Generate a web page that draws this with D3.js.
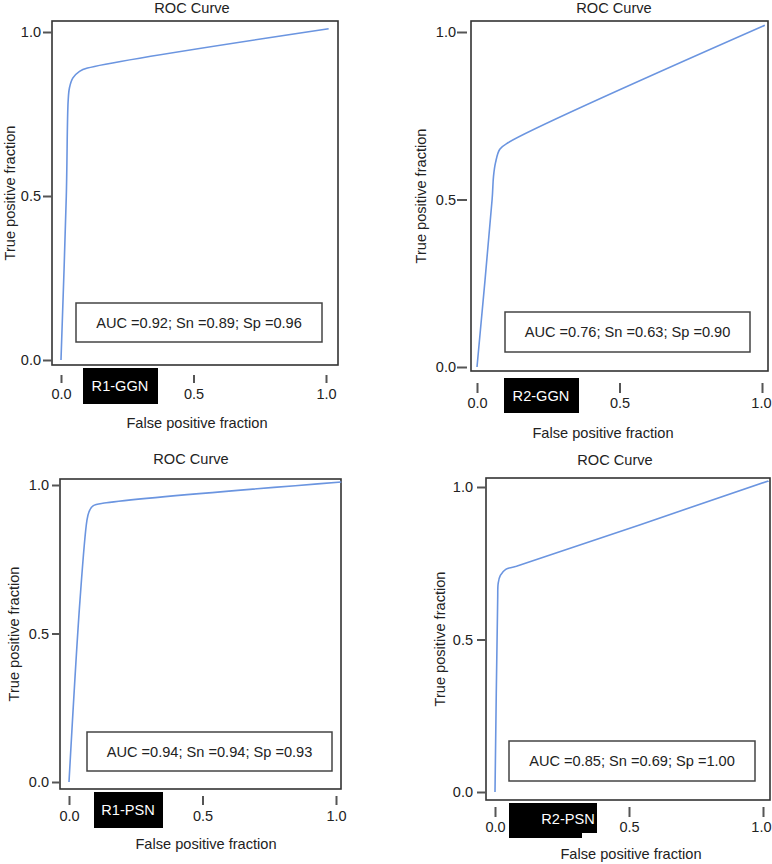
<!DOCTYPE html>
<html>
<meta charset="utf-8">
<title>ROC Curves</title>
<style>
body {
  margin: 0;
  background: #fff;
  font-family: "Liberation Sans", Arial, sans-serif;
}

.frame {
  fill: none;
  stroke: #333;
  stroke-width: 1.6px;
}

.axis path.domain {
  display: none;
}

.axis line {
  stroke: #555;
  stroke-width: 2px;
}

.axis text {
  font-family: "Liberation Sans", Arial, sans-serif;
  font-size: 14.5px;
  fill: #222;
}

.roc {
  fill: none;
  stroke: #6b95e0;
  stroke-width: 1.6px;
}

.statbox {
  fill: #fff;
  stroke: #444;
  stroke-width: 1.5px;
}

.label {
  font-size: 14.6px;
  fill: #222;
}
</style>
<body>
<div id="chart"></div>
<script src="https://d3js.org/d3.v7.min.js"></script>
<script>

// values
var names = ["R1-GGN", "R2-GGN", "R1-PSN", "R2-PSN"];
var stats = [
  "AUC =0.92; Sn =0.89; Sp =0.96",
  "AUC =0.76; Sn =0.63; Sp =0.90",
  "AUC =0.94; Sn =0.94; Sp =0.93",
  "AUC =0.85; Sn =0.69; Sp =1.00"
];
var tickValues = [0, 0.5, 1];

var fpr1 = [0, 0.02, 0.027, 0.032, 0.045, 0.07, 0.1, 1.01];
var tpr1 = [0, 0.5, 0.79, 0.83, 0.86, 0.88, 0.89, 1.01];

var fpr2 = [0, 0.053, 0.058, 0.065, 0.08, 0.11, 1.01];
var tpr2 = [0, 0.5, 0.57, 0.61, 0.65, 0.67, 1.02];

var fpr3 = [0, 0.041, 0.067, 0.075, 0.09, 0.14, 1.02];
var tpr3 = [0, 0.61, 0.88, 0.91, 0.93, 0.94, 1.01];

var fpr4 = [0, 0.01, 0.012, 0.02, 0.04, 0.08, 1.02];
var tpr4 = [0, 0.63, 0.685, 0.71, 0.73, 0.74, 1.02];

var curves = [[fpr1, tpr1], [fpr2, tpr2], [fpr3, tpr3], [fpr4, tpr4]];

// where each panel sits on the page
var layout = [
  { frame: [52, 21, 338, 365], x: [61, 326], y: [360, 32], titleX: 192, titleY: 13,
    yTick: { right: 52, len: 9, pad: 2 }, yTitleX: 10,
    xTick: { top: 375, len: 8, pad: 6 }, xTitle: [197, 428],
    badges: [[83, 368, 158, 404]], badgeText: [120, 386],
    box: [76, 303, 322, 342] },
  { frame: [471, 21, 768, 371], x: [477, 762], y: [367, 32], titleX: 614, titleY: 13,
    yTick: { right: 467, len: 10, pad: 1 }, yTitleX: 421,
    xTick: { top: 383, len: 10, pad: 5 }, xTitle: [603, 438],
    badges: [[504, 378, 579, 413]], badgeText: [541, 396],
    box: [505, 312, 750, 352] },
  { frame: [60, 479, 341, 789], x: [69, 336], y: [782, 485], titleX: 191, titleY: 464,
    yTick: { right: 60, len: 8, pad: 3 }, yTitleX: 14,
    xTick: { top: 796, len: 9, pad: 6 }, xTitle: [206, 849],
    badges: [[94, 792, 163, 828]], badgeText: [128, 810],
    box: [87, 732, 332, 771] },
  { frame: [486, 478, 770, 800], x: [495, 763], y: [792, 487], titleX: 615, titleY: 465,
    yTick: { right: 486, len: 9, pad: 4 }, yTitleX: 440,
    xTick: { top: 807, len: 10, pad: 5 }, xTitle: [631, 859],
    badges: [[509, 803, 582, 838], [509, 803, 597, 833]], badgeText: [568, 819],
    box: [509, 741, 755, 781] }
];

var W = 772, H = 864;

var svg = d3.select("#chart").append("svg")
  .attr("width", W)
  .attr("height", H);

layout.forEach(function(L, i) {
  var g = svg.append("g");

  var x = d3.scaleLinear().domain([0, 1]).range(L.x);
  var y = d3.scaleLinear().domain([0, 1]).range(L.y);

  g.append("text")
    .attr("class", "label")
    .attr("x", L.titleX)
    .attr("y", L.titleY)
    .attr("text-anchor", "middle")
    .text("ROC Curve");

  g.append("rect")
    .attr("class", "frame")
    .attr("x", L.frame[0])
    .attr("y", L.frame[1])
    .attr("width", L.frame[2] - L.frame[0])
    .attr("height", L.frame[3] - L.frame[1]);

  g.append("g")
    .attr("class", "axis")
    .attr("transform", "translate(" + L.yTick.right + ",0)")
    .call(d3.axisLeft(y)
      .tickValues(tickValues)
      .tickSize(L.yTick.len)
      .tickPadding(L.yTick.pad)
      .tickFormat(d3.format(".1f")));

  var xAxis = g.append("g")
    .attr("class", "axis")
    .attr("transform", "translate(0," + L.xTick.top + ")")
    .call(d3.axisBottom(x)
      .tickValues(tickValues)
      .tickSize(L.xTick.len)
      .tickPadding(L.xTick.pad)
      .tickFormat(d3.format(".1f")));

  // keep the last tick label inside the page
  xAxis.selectAll(".tick text").each(function(d) {
    var right = x(d) + this.getComputedTextLength() / 2;
    if (right > W - 1) d3.select(this).attr("dx", (W - 1 - right) + "px");
  });

  var ym = (L.frame[1] + L.frame[3]) / 2;
  g.append("text")
    .attr("class", "label")
    .attr("transform", "translate(" + L.yTitleX + "," + ym + ") rotate(-90)")
    .attr("text-anchor", "middle")
    .attr("dy", "0.35em")
    .text("True positive fraction");

  g.append("text")
    .attr("class", "label")
    .attr("x", L.xTitle[0])
    .attr("y", L.xTitle[1])
    .attr("text-anchor", "middle")
    .text("False positive fraction");

  var pts = d3.zip(curves[i][0], curves[i][1]);
  var line = d3.line()
    .x(function(d) { return x(d[0]); })
    .y(function(d) { return y(d[1]); })
    .curve(d3.curveCatmullRom.alpha(0.5));

  g.append("path")
    .attr("class", "roc")
    .attr("d", line(pts));

  g.append("rect")
    .attr("class", "statbox")
    .attr("x", L.box[0])
    .attr("y", L.box[1])
    .attr("width", L.box[2] - L.box[0])
    .attr("height", L.box[3] - L.box[1]);

  g.append("text")
    .attr("class", "label")
    .attr("x", (L.box[0] + L.box[2]) / 2)
    .attr("y", (L.box[1] + L.box[3]) / 2)
    .attr("dy", "0.35em")
    .attr("text-anchor", "middle")
    .text(stats[i]);

  L.badges.forEach(function(b) {
    g.append("rect")
      .attr("x", b[0])
      .attr("y", b[1])
      .attr("width", b[2] - b[0])
      .attr("height", b[3] - b[1])
      .attr("fill", "#000");
  });

  g.append("text")
    .attr("x", L.badgeText[0])
    .attr("y", L.badgeText[1])
    .attr("dy", "0.35em")
    .attr("text-anchor", "middle")
    .attr("fill", "#fff")
    .style("font-size", "14.6px")
    .text(names[i]);
});

</script>
</body>
</html>
